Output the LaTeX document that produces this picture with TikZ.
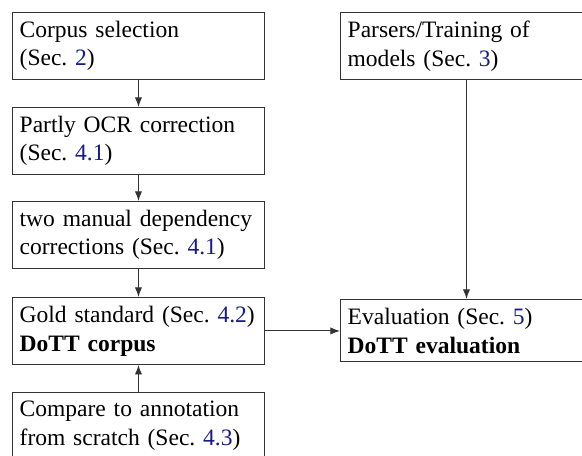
\documentclass[tikz,border=0pt]{standalone}
\usepackage{fontspec}
\setmainfont{Liberation Serif}
\usetikzlibrary{arrows.meta}
\definecolor{secblue}{rgb}{0.1,0.1,0.55}
\newcommand{\secref}[1]{\textcolor{secblue}{#1}}
\tikzset{every picture/.style={line width=0.4pt}}

\begin{document}
\begin{tikzpicture}[x=0.4167pt,y=0.4167pt,yscale=-1,xscale=1,
	stagebox/.style={draw=black!80,anchor=north west,inner xsep=3pt,inner ysep=3.5pt,text width=99pt,align=left,font=\fontsize{9.8}{12}\selectfont},
	flow/.style={draw=black!80,-{Latex[length=4pt,width=3pt]}}]
	%set diagram window: 582 x 455, right and bottom boxes run out of it
	\useasboundingbox (0,0) rectangle (582,455);
	
	% Text Node
	\node [stagebox] (corpus) at (12,12) {Corpus selection\\(Sec.~\secref{2})};
	% Text Node
	\node [stagebox] (ocr) at (12,107) {Partly OCR correction\\(Sec.~\secref{4.1})};
	% Text Node
	\node [stagebox] (manual) at (12,201) {two manual dependency\\corrections (Sec.~\secref{4.1})};
	% Text Node
	\node [stagebox] (gold) at (12,297) {Gold standard (Sec.~\secref{4.2})\\\textbf{DoTT corpus}};
	% Text Node
	\node [stagebox] (compare) at (12,392) {Compare to annotation\\from scratch (Sec.~\secref{4.3})};
	% Text Node
	\node [stagebox] (parsers) at (340,12) {Parsers/Training of\\models (Sec.~\secref{3})};
	% Text Node
	\node [stagebox] (eval) at (340,299) {Evaluation (Sec.~\secref{5})\\\textbf{DoTT evaluation}};
	
	%Straight Lines
	\draw [flow] (corpus) -- (ocr);
	%Straight Lines
	\draw [flow] (ocr) -- (manual);
	%Straight Lines
	\draw [flow] (manual) -- (gold);
	%Straight Lines
	\draw [flow] (compare) -- (gold);
	%Straight Lines
	\draw [flow] (gold.east) -- (gold.east -| eval.west);
	%Straight Lines
	\draw [flow] (parsers) -- (eval);
\end{tikzpicture}
\end{document}
